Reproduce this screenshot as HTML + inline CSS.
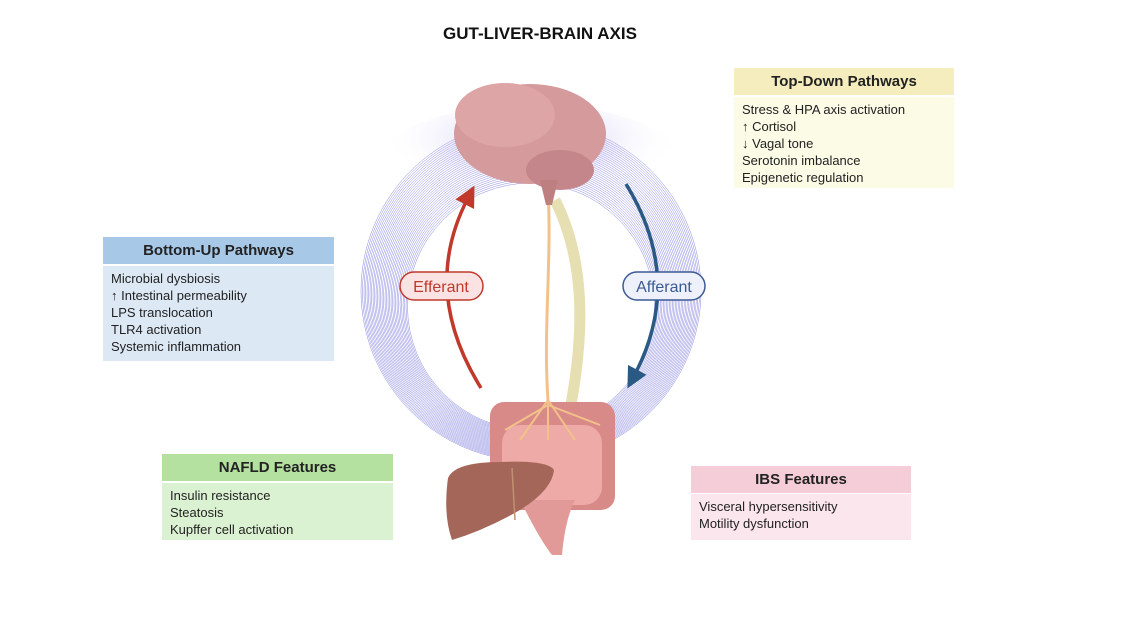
<!DOCTYPE html>
<html><head><meta charset="utf-8"><style>
body{margin:0;width:1121px;height:617px;background:#fff;position:relative;overflow:hidden;font-family:"Liberation Sans",sans-serif}
.t{position:absolute;left:0;width:1080px;top:24px;text-align:center;font-weight:bold;font-size:17px;color:#111;font-family:"Liberation Sans Narrow","Liberation Sans",sans-serif}
.h{position:absolute;text-align:center;font-weight:bold;font-size:15px;color:#222;line-height:27px}
.b{position:absolute;font-size:13px;color:#222;line-height:17px;padding:4px 8px;box-sizing:border-box}
</style></head><body>
<svg width="1121" height="617" style="position:absolute;left:0;top:0">
<defs>
<radialGradient id="glow" cx="0.5" cy="0.3" r="0.5">
<stop offset="0" stop-color="#7a6ae0" stop-opacity="0.45"/><stop offset="1" stop-color="#fff" stop-opacity="0"/></radialGradient>
<marker id="ar" markerWidth="6" markerHeight="6" refX="2" refY="3" orient="auto" markerUnits="strokeWidth"><path d="M0,0L6,3L0,6z" fill="#c0392b"/></marker>
<marker id="ab" markerWidth="6" markerHeight="6" refX="2" refY="3" orient="auto" markerUnits="strokeWidth"><path d="M0,0L6,3L0,6z" fill="#2a5a84"/></marker>
</defs>
<g id="rings" fill="none" stroke="#6a6ad8" stroke-width="0.5" stroke-opacity="0.8"></g>
<ellipse cx="531" cy="160" rx="150" ry="55" fill="url(#glow)"/>
<path d="M481,388 Q420,290 468,198" fill="none" stroke="#c0392b" stroke-width="3.5" marker-end="url(#ar)"/>
<path d="M626,184 Q685,280 634,376" fill="none" stroke="#2a5a84" stroke-width="3.5" marker-end="url(#ab)"/>
<rect x="400" y="272" width="83" height="28" rx="14" fill="#fbe3e3" stroke="#c0392b" stroke-width="1.5"/>
<text x="441" y="292" text-anchor="middle" font-size="16" fill="#c0392b" font-family="Liberation Sans">Efferant</text>
<rect x="623" y="272" width="82" height="28" rx="14" fill="#eef0fb" stroke="#3a5a94" stroke-width="1.5"/>
<text x="664" y="292" text-anchor="middle" font-size="16" fill="#3a5a94" font-family="Liberation Sans">Afferant</text>
<path d="M555,200 C585,260 585,330 570,410" fill="none" stroke="#e6dfb2" stroke-width="11"/>
<path d="M548,190 C552,260 543,330 548,400" stroke="#f2c28a" stroke-width="3" fill="none"/>
<rect x="490" y="402" width="125" height="108" rx="14" fill="#d88a88"/>
<rect x="502" y="425" width="100" height="80" rx="18" fill="#eeaaa6"/>
<path d="M520,500 Q540,540 552,555 L562,555 Q565,520 575,500z" fill="#e29a98"/>
<path d="M548,400 L520,440 M548,400 L575,440 M548,400 L548,440 M548,405 L505,430 M548,405 L600,425" stroke="#f2c28a" stroke-width="2" fill="none"/>
<path d="M448,478 Q455,462 500,462 Q548,460 554,470 Q552,490 520,510 Q485,530 452,540 Q443,515 448,478z" fill="#a5665a"/>
<path d="M512,468 L515,520" stroke="#c09070" stroke-width="1.5"/>
<ellipse cx="530" cy="134" rx="76" ry="50" fill="#d49a9c"/>
<ellipse cx="505" cy="115" rx="50" ry="32" fill="#dda5a6"/>
<ellipse cx="560" cy="170" rx="34" ry="20" fill="#c4868a"/>
<path d="M540,180 L558,180 L552,205 L546,205z" fill="#bd7f80"/>
</svg>
<script>
var g=document.getElementById('rings'),s='';
for(var k=0;k<32;k++){var r=170-k*1.5,cy=291+k*0.5;s+='<circle cx="531" cy="'+cy+'" r="'+r+'"/>';}
g.innerHTML=s;
</script>
<div class="t">GUT-LIVER-BRAIN AXIS</div>
<div class="h" style="left:734px;top:68px;width:220px;background:#f5edbe">Top-Down Pathways</div>
<div class="b" style="left:734px;top:97px;width:220px;height:91px;background:#fcfbe6">Stress &amp; HPA axis activation<br>↑ Cortisol<br>↓ Vagal tone<br>Serotonin imbalance<br>Epigenetic regulation</div>
<div class="h" style="left:103px;top:237px;width:231px;background:#a8c8e8">Bottom-Up Pathways</div>
<div class="b" style="left:103px;top:266px;width:231px;height:95px;background:#dde8f5">Microbial dysbiosis<br>↑ Intestinal permeability<br>LPS translocation<br>TLR4 activation<br>Systemic inflammation</div>
<div class="h" style="left:162px;top:454px;width:231px;background:#b4e0a0">NAFLD Features</div>
<div class="b" style="left:162px;top:483px;width:231px;height:57px;background:#dbf2d2">Insulin resistance<br>Steatosis<br>Kupffer cell activation</div>
<div class="h" style="left:691px;top:466px;width:220px;background:#f5cdd8">IBS Features</div>
<div class="b" style="left:691px;top:494px;width:220px;height:46px;background:#fae6ec">Visceral hypersensitivity<br>Motility dysfunction</div>
</body></html>
